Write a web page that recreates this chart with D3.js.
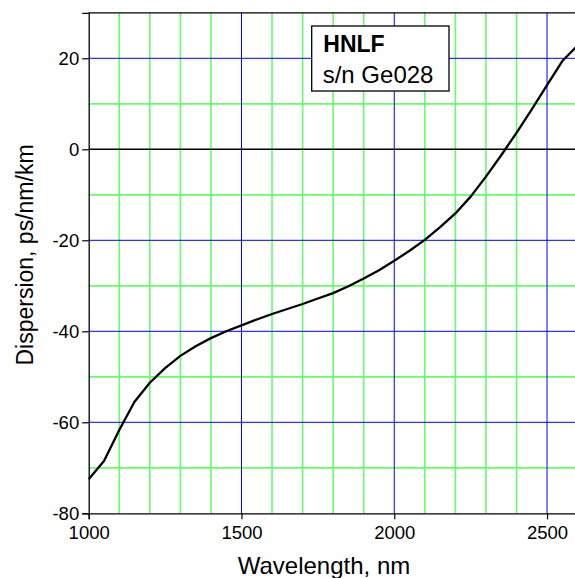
<!DOCTYPE html>
<html>
<head>
<meta charset="utf-8">
<script src="https://cdn.jsdelivr.net/npm/d3@7"></script>
<style>
  body { margin: 0; background: #fff; }
  svg { display: block; font-family: "Liberation Sans", Arial, sans-serif; }
</style>
</head>
<body>
<div id="chart"></div>
<script>
// wavelength (nm) and dispersion (ps/nm/km)
const wavelength = [1000, 1050, 1100, 1150, 1200, 1250, 1300, 1350, 1400, 1450, 1500,
    1550, 1600, 1650, 1700, 1750, 1800, 1850, 1900, 1950, 2000,
    2050, 2100, 2150, 2200, 2250, 2300, 2350, 2400, 2450, 2500, 2550, 2600];
const dispersion = [-72.5, -68.5, -61.7, -55.5, -51.3, -48.1, -45.4, -43.3, -41.5, -40.0, -38.7,
    -37.4, -36.2, -35.1, -34.0, -32.8, -31.6, -30.1, -28.4, -26.6, -24.5,
    -22.3, -19.9, -17.1, -14.1, -10.4, -6.0, -1.3, 3.6, 8.8, 14.1, 19.4, 22.8];

const xMajor = [1000, 1500, 2000, 2500];
const xMinor = [1100, 1200, 1300, 1400, 1600, 1700, 1800, 1900, 2100, 2200, 2300, 2400];
const yMajor = [20, 0, -20, -40, -60, -80];
const yMinor = [10, -10, -30, -50, -70];
const legendLines = ["HNLF", "s/n Ge028"];

const width = 575, height = 578;
const margin = { top: 12.8, left: 88.7 };
const plotRight = 577.6, plotBottom = 513.3;

const svg = d3.select("#chart").append("svg")
    .attr("width", width)
    .attr("height", height);

const x = d3.scaleLinear().domain([1000, 2600]).range([margin.left, plotRight]);
const y = d3.scaleLinear().domain([-80, 30]).range([plotBottom, margin.top]);

// grid
const grid = svg.append("g");
grid.selectAll("line.vmin").data(xMinor).enter().append("line")
    .attr("x1", d => x(d)).attr("x2", d => x(d))
    .attr("y1", margin.top).attr("y2", plotBottom)
    .attr("stroke", "#66ff66").attr("stroke-width", 1.6);
grid.selectAll("line.hmin").data(yMinor).enter().append("line")
    .attr("x1", margin.left).attr("x2", plotRight)
    .attr("y1", d => y(d)).attr("y2", d => y(d))
    .attr("stroke", "#66ff66").attr("stroke-width", 1.8);
grid.selectAll("line.vmaj").data(xMajor.filter(d => d > 1000)).enter().append("line")
    .attr("x1", d => x(d)).attr("x2", d => x(d))
    .attr("y1", margin.top).attr("y2", plotBottom)
    .attr("stroke", "#0000ff").attr("stroke-width", 1);
grid.selectAll("line.hmaj").data(yMajor.filter(d => d !== 0 && d > -80)).enter().append("line")
    .attr("x1", margin.left).attr("x2", plotRight)
    .attr("y1", d => y(d)).attr("y2", d => y(d))
    .attr("stroke", "#0000ff").attr("stroke-width", 1);
// zero line and top border
grid.append("line")
    .attr("x1", margin.left).attr("x2", plotRight)
    .attr("y1", y(0)).attr("y2", y(0))
    .attr("stroke", "#000").attr("stroke-width", 1.4);
grid.append("line")
    .attr("x1", margin.left).attr("x2", plotRight)
    .attr("y1", y(30)).attr("y2", y(30))
    .attr("stroke", "#000").attr("stroke-width", 1.2);

// axes
const fmt = d => String(d);
const xAxis = svg.append("g").attr("transform", `translate(0,${plotBottom})`);
xAxis.call(d3.axisBottom(x).tickValues(xMinor).tickSize(3.5).tickFormat(""));
xAxis.call(d3.axisBottom(x).tickValues(xMajor).tickSize(6).tickFormat(fmt));
xAxis.selectAll("text")
    .attr("y", 25.7).attr("dy", null)
    .attr("fill", "#000")
    .style("font-size", "18.5px");

const yAxis = svg.append("g").attr("transform", `translate(${margin.left},0)`);
yAxis.call(d3.axisLeft(y).tickValues(yMinor).tickSize(3).tickFormat(""));
yAxis.call(d3.axisLeft(y).tickValues(yMajor).tickSize(6.5).tickFormat(fmt));
yAxis.selectAll("text")
    .attr("x", -9.5).attr("dy", "0.33em")
    .attr("fill", "#000")
    .style("font-size", "18.5px");

svg.selectAll(".domain").attr("stroke", "#000").attr("stroke-width", 1.3);
svg.selectAll(".tick line").attr("stroke", "#000").attr("stroke-width", 1.2);

// the curve
const line = d3.line()
    .x((d, i) => x(wavelength[i]))
    .y(d => y(d));

svg.append("path")
    .datum(dispersion)
    .attr("fill", "none")
    .attr("stroke", "#000")
    .attr("stroke-width", 2.3)
    .attr("stroke-linejoin", "round")
    .attr("d", line);

// legend box
const legend = svg.append("g");
legend.append("rect")
    .attr("x", 311.7).attr("y", 26)
    .attr("width", 137.3).attr("height", 65)
    .attr("fill", "#fff").attr("stroke", "#000").attr("stroke-width", 1.3);
legend.append("text")
    .attr("x", 323.3).attr("y", 51.7)
    .style("font-size", "23px").style("font-weight", "bold")
    .text(legendLines[0]);
legend.append("text")
    .attr("x", 322.7).attr("y", 83.3)
    .style("font-size", "24px")
    .text(legendLines[1]);

// axis titles
svg.append("text")
    .attr("x", 324).attr("y", 574)
    .attr("text-anchor", "middle")
    .style("font-size", "24px")
    .text("Wavelength, nm");

svg.append("text")
    .attr("transform", "translate(33,255) rotate(-90)")
    .attr("text-anchor", "middle")
    .style("font-size", "23px")
    .text("Dispersion, ps/nm/km");
</script>
</body>
</html>
